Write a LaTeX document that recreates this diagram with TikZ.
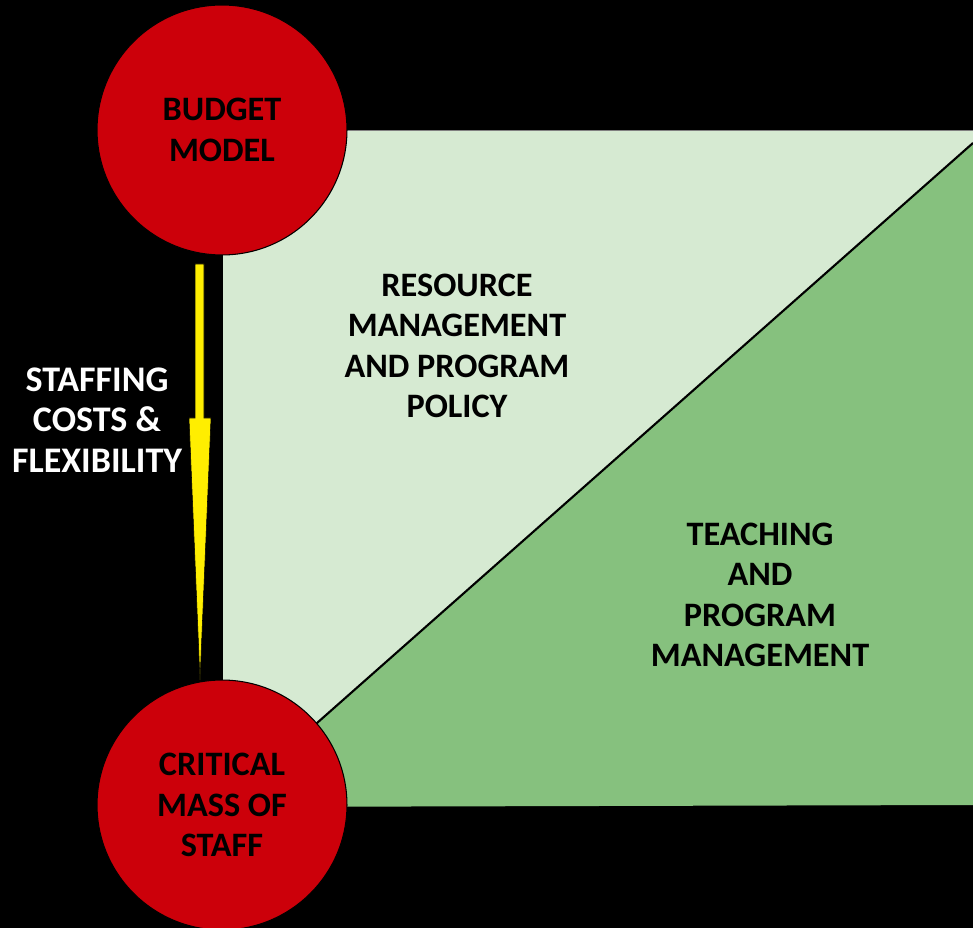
\documentclass[tikz,border=0pt]{standalone}
\usepackage{fontspec}
\setmainfont{Carlito}
\usepackage{tikz}
\usetikzlibrary{positioning}
\usetikzlibrary{calc}
\definecolor{budgetred}{RGB}{204,0,10}
\definecolor{palegreen}{RGB}{214,234,210}
\definecolor{leafgreen}{RGB}{134,193,126}
\definecolor{arrowyellow}{RGB}{255,238,0}
\tikzset{bigcirc/.style = {circle, draw = black, line width = 0.6pt, fill = budgetred,
                           minimum size = 5cm, inner sep = 0, align = center,
                           font = \fontsize{19.5}{23}\selectfont\bfseries}}
\tikzset{lbl/.style = {align = center, font = \fontsize{19.5}{23}\selectfont\bfseries}}

\begin{document}
\begin{tikzpicture}[x = 0.02cm, y = -0.02cm]
      \fill [black] (0, 0) rectangle (973, 928);
      \useasboundingbox (0, 0) rectangle (973, 928);

      \fill [palegreen] (223, 130) rectangle (973, 805);
      \draw [gray, line width = 0.4pt] (223, 130) -- (973, 130);
      \fill [leafgreen] (222, 807) -- (973, 143) -- (973, 805) -- cycle;
      \draw [line width = 1.2pt] (222, 807) -- (973, 143);

      \node [bigcirc] (budget) at (222, 130) {BUDGET\\MODEL};
      \node [bigcirc] (staff) at (222, 805) {CRITICAL\\MASS OF\\STAFF};

      \coordinate (arrtop) at (200, 264);
      \coordinate (arrtip) at (200, 680);
      \filldraw [arrowyellow, draw = black, line width = 0.3pt]
            ($(arrtop) + (-5, 0)$) -- ($(arrtop) + (4, 0)$) -- ($(arrtop) + (4, 154)$)
            -- ($(arrtop) + (11, 154)$) -- (arrtip) -- ($(arrtop) + (-11, 154)$)
            -- ($(arrtop) + (-5, 154)$) -- cycle;

      \node [lbl, white, font = \fontsize{20.5}{23}\selectfont\bfseries] (cost) at (97, 420) {STAFFING\\COSTS \&\\FLEXIBILITY};
      \node [lbl] (resource) at (457, 346) {RESOURCE\\MANAGEMENT\\AND PROGRAM\\POLICY};
      \node [lbl] (teaching) at (760, 595) {TEACHING\\AND\\PROGRAM\\MANAGEMENT};
\end{tikzpicture}
\end{document}
